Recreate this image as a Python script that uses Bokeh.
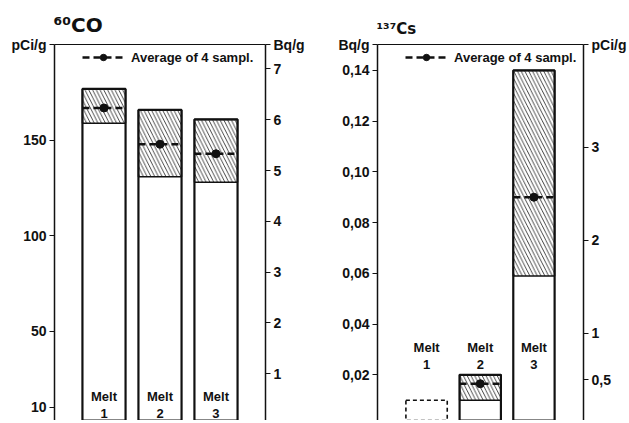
import numpy as np
from bokeh.plotting import figure
from bokeh.layouts import row
from bokeh.models import (LinearAxis, Range1d, FixedTicker, Legend, LegendItem,
                          Title, ColumnDataSource, CustomJSTickFormatter)
from bokeh.core.properties import value
from bokeh.embed import file_html
from bokeh.resources import INLINE

# ---------------- data ----------------
melt_labels = ["Melt\n1", "Melt\n2", "Melt\n3"]

# 60Co, pCi/g : lowest sample, highest sample, average of 4 samples
co_min_pci = [159, 131, 128]
co_max_pci = [177, 166, 161]
co_avg_pci = [167, 148, 143]

# 137Cs, Bq/g (Melt 1: only an upper limit)
cs_min_bq = [np.nan, 0.010, 0.059]
cs_max_bq = [0.010, 0.020, 0.140]
cs_avg_bq = [np.nan, 0.0165, 0.090]

co_pci_ticks = [10, 50, 100, 150]
co_bq_ticks = [1, 2, 3, 4, 5, 6, 7]
cs_bq_ticks = [0.02, 0.04, 0.06, 0.08, 0.10, 0.12, 0.14]
cs_pci_ticks = [0.5, 1, 2, 3]

legend_text = "Average of 4 sampl."
co_title = "\u2076\u2070CO"
cs_title = "\u00b9\u00b3\u2077Cs"

# ---------------- style ----------------
FONT = "Liberation Sans"
TITLE_FONT = "DejaVu Sans"
INK = "#111111"
BAR_W = 0.77
H = 420
HATCH = dict(hatch_pattern="\\", hatch_color="#333333", hatch_scale=7.5, hatch_weight=0.9)


def formatter(unit, decimals, top):
    # tick labels; the tick at the top end of the axis carries the unit name
    return CustomJSTickFormatter(args=dict(unit=unit, dec=decimals, top=top), code="""
        if (tick > top - 1e-9) { return unit; }
        if (dec < 0) {
            if (Math.abs(tick - Math.round(tick)) < 1e-9) { return tick.toFixed(0); }
            return tick.toFixed(1).replace('.', ',');
        }
        return tick.toFixed(dec).replace('.', ',');
    """)


def style_axis(ax):
    ax.axis_line_color = INK
    ax.axis_line_width = 1.5
    ax.major_tick_line_color = INK
    ax.major_tick_line_width = 1.2
    ax.major_tick_in = 0
    ax.major_tick_out = 5
    ax.minor_tick_line_color = None
    ax.major_label_text_font = FONT
    ax.major_label_text_font_size = "14px"
    ax.major_label_text_font_style = "bold"
    ax.major_label_text_color = INK
    ax.major_label_standoff = 3


def make_panel(width, x_range, y_range, extra_range, left_ticks, right_ticks,
               left_unit, right_unit, left_dec, right_dec,
               min_border_left, min_border_right, title, title_size, title_standoff):
    p = figure(width=width, height=H, x_range=x_range, y_range=y_range,
               output_backend="svg", toolbar_location=None,
               x_axis_location=None, y_axis_location="left",
               min_border_left=min_border_left, min_border_right=min_border_right,
               min_border_top=44, min_border_bottom=0)
    p.outline_line_color = None
    p.grid.visible = False
    p.background_fill_color = "white"
    p.border_fill_color = "white"

    lax = p.yaxis[0]
    lax.ticker = FixedTicker(ticks=list(left_ticks) + [y_range.end])
    lax.formatter = formatter(left_unit, left_dec, y_range.end)
    style_axis(lax)

    p.extra_y_ranges = {"other": extra_range}
    rax = LinearAxis(y_range_name="other",
                     ticker=FixedTicker(ticks=list(right_ticks) + [extra_range.end]))
    rax.formatter = formatter(right_unit, right_dec, extra_range.end)
    style_axis(rax)
    p.add_layout(rax, "right")

    top = LinearAxis(ticker=FixedTicker(ticks=[]))
    top.axis_line_color = INK
    top.axis_line_width = 1.2
    top.major_tick_line_color = None
    top.minor_tick_line_color = None
    p.add_layout(top, "above")

    p.add_layout(Title(text=title, align="left", offset=-1, text_font=TITLE_FONT,
                       text_font_size=title_size, text_font_style="bold",
                       text_color=INK, standoff=title_standoff), "above")
    return p


def draw_bars(p, xs, mins, maxs, avgs, bottom_val):
    mins = np.asarray(mins, dtype=float)
    maxs = np.asarray(maxs, dtype=float)
    avgs = np.asarray(avgs, dtype=float)
    xs = np.asarray(xs, dtype=float)
    det = ~np.isnan(mins)
    src = ColumnDataSource(dict(x=xs[det], lo=mins[det], hi=maxs[det], avg=avgs[det],
                                x0=xs[det] - BAR_W / 2, x1=xs[det] + BAR_W / 2))
    p.vbar(x="x", bottom=bottom_val, top="lo", width=BAR_W, source=src,
           fill_color="white", line_color=None)
    p.vbar(x="x", bottom="lo", top="hi", width=BAR_W, source=src,
           fill_color="white", line_color=INK, line_width=1.5, **HATCH)
    p.vbar(x="x", bottom=bottom_val, top="hi", width=BAR_W, source=src,
           fill_color=None, line_color=INK, line_width=2.2)
    if (~det).any():
        src2 = ColumnDataSource(dict(x=xs[~det], hi=maxs[~det]))
        p.vbar(x="x", bottom=bottom_val, top="hi", width=BAR_W, source=src2,
               fill_color=None, line_color=INK, line_width=1.6, line_dash="4 3")
    seg = p.segment(x0="x0", y0="avg", x1="x1", y1="avg", source=src,
                    line_color=INK, line_width=2.6, line_dash="7 4")
    dot = p.scatter(x="x", y="avg", source=src, size=8, marker="circle",
                    fill_color=INK, line_color=INK)
    return seg, dot


def add_legend(p, seg, dot):
    leg = Legend(items=[LegendItem(label=legend_text, renderers=[seg, dot])],
                 location=(28, H - 44 - 21), orientation="horizontal",
                 glyph_width=42, glyph_height=16, label_height=16, label_standoff=7,
                 padding=0, margin=0, spacing=0, border_line_color=None,
                 background_fill_alpha=0, label_text_font=FONT,
                 label_text_font_size="13px", label_text_font_style="bold",
                 label_text_color=INK)
    p.add_layout(leg)


xs = list(range(1, len(melt_labels) + 1))

# ---------------- 60Co panel ----------------
p1 = make_panel(318, Range1d(0.116, 3.884), Range1d(3.1, 200.3), Range1d(0.08, 7.48),
                co_pci_ticks, co_bq_ticks, "pCi/g", "Bq/g", 0, 0, 54, 53,
                co_title, "20px", 16)
seg1, dot1 = draw_bars(p1, xs, co_min_pci, co_max_pci, co_avg_pci, 0)
add_legend(p1, seg1, dot1)
p1.text(x=xs, y=[11.3] * len(xs), text=melt_labels, text_font=value(FONT),
        text_font_size="13px", text_font_style="bold", text_color=INK,
        text_align="center", text_baseline="middle", text_line_height=1.15)

# ---------------- 137Cs panel ----------------
p2 = make_panel(311, Range1d(0.086, 3.923), Range1d(0.002, 0.1502), Range1d(0.062, 4.105),
                cs_bq_ticks, cs_pci_ticks, "Bq/g", "pCi/g", 2, -1, 59, 42,
                cs_title, "15px", 14)
seg2, dot2 = draw_bars(p2, xs, cs_min_bq, cs_max_bq, cs_avg_bq, 0)
add_legend(p2, seg2, dot2)
p2.text(x=xs, y=[0.0273] * len(xs), text=melt_labels, text_font=value(FONT),
        text_font_size="13px", text_font_style="bold", text_color=INK,
        text_align="center", text_baseline="middle", text_line_height=1.15)

layout = row(p1, p2)
open("out.html", "w").write(file_html(layout, INLINE))
